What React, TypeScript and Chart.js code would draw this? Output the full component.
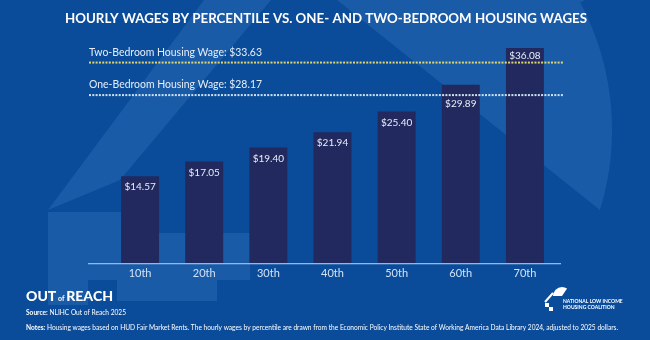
import React, { useEffect, useRef } from "react";
import { Chart, registerables } from "chart.js";

Chart.register(...registerables);

// ---- data ----
const percentiles = ["10th", "20th", "30th", "40th", "50th", "60th", "70th"];
const hourlyWages = [14.57, 17.05, 19.4, 21.94, 25.4, 29.89, 36.08];
const housingWageNames = ["Two-Bedroom Housing Wage", "One-Bedroom Housing Wage"];
const housingWages = [33.63, 28.17];
const chartTitle = "HOURLY WAGES BY PERCENTILE VS. ONE- AND TWO-BEDROOM HOUSING WAGES";
const brandLeft = ["OUT", "of", "REACH"];
const sourceLabel = "Source:";
const sourceText = " NLIHC Out of Reach 2025";
const notesLabel = "Notes:";
const notesText =
  " Housing wages based on HUD Fair Market Rents. The hourly wages by percentile are drawn from the Economic Policy Institute State of Working America Data Library 2024, adjusted to 2025 dollars.";
const brandRight = ["NATIONAL LOW INCOME", "HOUSING COALITION"];

// ---- style ----
const W = 650;
const H = 340;
const FONT = "Lato, 'Open Sans', sans-serif";
const BASE = "#0b4c9a";
const LIGHT = "#1a5ba8";
const BAR = "#22295e";
const LINE_COLORS = ["#e2d46c", "#cfe2f2"];

function fmt(v: number) {
  return "$" + v.toFixed(2);
}

function drawRich(ctx: CanvasRenderingContext2D, parts: { t: string; f: string }[], x: number, y: number, width?: number) {
  let total = 0;
  const ws = parts.map((p) => {
    ctx.font = p.f;
    const w = ctx.measureText(p.t).width;
    total += w;
    return w;
  });
  const sx = width ? width / total : 1;
  ctx.save();
  ctx.translate(x, y);
  ctx.scale(sx, 1);
  let cx = 0;
  parts.forEach((p, i) => {
    ctx.font = p.f;
    ctx.fillText(p.t, cx, 0);
    cx += ws[i];
  });
  ctx.restore();
}

const backgroundPlugin = {
  id: "bg",
  beforeDraw(chart: any) {
    const ctx: CanvasRenderingContext2D = chart.ctx;
    ctx.save();
    ctx.fillStyle = BASE;
    ctx.fillRect(0, 0, W, H);
    ctx.fillStyle = LIGHT;
    // dome wedge
    ctx.beginPath();
    ctx.moveTo(337, 0);
    ctx.lineTo(585, 0);
    ctx.arc(340, 130, 272, Math.atan2(-130, 245), Math.atan2(80, 260));
    ctx.closePath();
    ctx.fill();
    // roof band
    ctx.beginPath();
    ctx.moveTo(204, 0);
    ctx.lineTo(271, 0);
    ctx.lineTo(120, 180);
    ctx.lineTo(48, 210);
    ctx.closePath();
    ctx.fill();
    // lower-left blocks
    ctx.fillRect(48, 212, 82, 68);
    ctx.fillRect(130, 233, 120, 47);
    ctx.fillRect(48, 280, 40, 25);
    ctx.fillRect(117, 280, 100, 21);
    ctx.restore();
  },
};

const overlayPlugin = {
  id: "overlay",
  afterDatasetsDraw(chart: any) {
    const ctx: CanvasRenderingContext2D = chart.ctx;
    const y = chart.scales.y;
    const area = chart.chartArea;
    ctx.save();
    // axis line
    ctx.fillStyle = "#8fb9e8";
    ctx.fillRect(88, area.bottom, 473, 1.3);
    // housing wage lines
    const lineYs: number[] = [];
    housingWages.forEach((v, i) => {
      const py = y.getPixelForValue(v);
      lineYs.push(py);
      ctx.fillStyle = LINE_COLORS[i];
      for (let x = 89; x < 561; x += 3.3) {
        ctx.fillRect(x, py - 1, 2, 2);
      }
      ctx.fillStyle = "#e4eef9";
      ctx.textAlign = "left";
      ctx.textBaseline = "alphabetic";
      drawRich(ctx, [{ t: `${housingWageNames[i]}: ${fmt(v)}`, f: `10.5px ${FONT}` }], 89, py - 7, 173);
    });
    // value labels
    const meta = chart.getDatasetMeta(0);
    ctx.fillStyle = "#e8eef8";
    ctx.font = `10px ${FONT}`;
    ctx.textAlign = "center";
    ctx.textBaseline = "middle";
    meta.data.forEach((bar: any, i: number) => {
      let ly = bar.y + 11;
      lineYs.forEach((l) => {
        if (Math.abs(ly - l) < 8) {
          ly = ly < l ? l - 7 : l + 9;
        }
      });
      ctx.fillText(fmt(hourlyWages[i]), bar.x, ly);
    });
    ctx.restore();
  },
  afterDraw(chart: any) {
    const ctx: CanvasRenderingContext2D = chart.ctx;
    ctx.save();
    ctx.fillStyle = "#ffffff";
    ctx.textBaseline = "middle";
    ctx.textAlign = "left";
    // title
    drawRich(ctx, [{ t: chartTitle, f: `bold 13.5px ${FONT}` }], 65, 19, 522);
    // footer brand
    ctx.textBaseline = "alphabetic";
    drawRich(
      ctx,
      [
        { t: brandLeft[0], f: `900 14px ${FONT}` },
        { t: " " + brandLeft[1] + " ", f: `bold 7px ${FONT}` },
        { t: brandLeft[2], f: `900 14px ${FONT}` },
      ],
      26,
      301,
      87
    );
    drawRich(
      ctx,
      [
        { t: sourceLabel, f: `bold 8px ${FONT}` },
        { t: sourceText, f: `8px ${FONT}` },
      ],
      26,
      315,
      100
    );
    drawRich(
      ctx,
      [
        { t: notesLabel, f: `bold 8px ${FONT}` },
        { t: notesText, f: `8px ${FONT}` },
      ],
      26,
      330,
      592
    );
    // NLIHC logo
    ctx.fillStyle = "#ffffff";
    ctx.beginPath();
    ctx.arc(562, 296, 9, Math.PI, 1.5 * Math.PI + 0.6);
    ctx.lineTo(562, 296);
    ctx.closePath();
    ctx.fill();
    ctx.strokeStyle = "#ffffff";
    ctx.lineWidth = 2;
    ctx.beginPath();
    ctx.moveTo(545, 302);
    ctx.lineTo(553, 293);
    ctx.stroke();
    ctx.fillRect(545, 303, 4, 4);
    ctx.fillRect(549, 307, 4, 4);
    ctx.font = `bold 5px ${FONT}`;
    ctx.fillText(brandRight[0], 563, 303);
    ctx.fillText(brandRight[1], 563, 309);
    ctx.restore();
  },
};

export default function App() {
  const ref = useRef<HTMLCanvasElement | null>(null);
  useEffect(() => {
    if (!ref.current) return;
    const chart = new Chart(ref.current, {
      type: "bar",
      data: {
        labels: percentiles,
        datasets: [
          {
            data: hourlyWages,
            backgroundColor: BAR,
            barPercentage: 0.592,
            categoryPercentage: 1,
          },
        ],
      },
      options: {
        responsive: false,
        animation: false,
        devicePixelRatio: 1,
        layout: { padding: { left: 108, right: 93, top: 24.6, bottom: 0 } },
        plugins: { legend: { display: false }, tooltip: { enabled: false }, title: { display: false } },
        scales: {
          x: {
            grid: { display: false, drawTicks: false },
            border: { display: false },
            ticks: { color: "#d3e2f4", font: { family: FONT, size: 11 }, padding: 4, maxRotation: 0 },
            afterFit: (s: any) => {
              s.height = 77;
            },
          },
          y: { display: false, min: 0, max: 40 },
        },
      },
      plugins: [backgroundPlugin, overlayPlugin],
    } as any);
    return () => chart.destroy();
  }, []);
  return (
    <div style={{ position: "absolute", left: 0, top: 0, width: W, height: H }}>
      <canvas ref={ref} width={W} height={H} style={{ display: "block", width: W, height: H }} />
    </div>
  );
}
